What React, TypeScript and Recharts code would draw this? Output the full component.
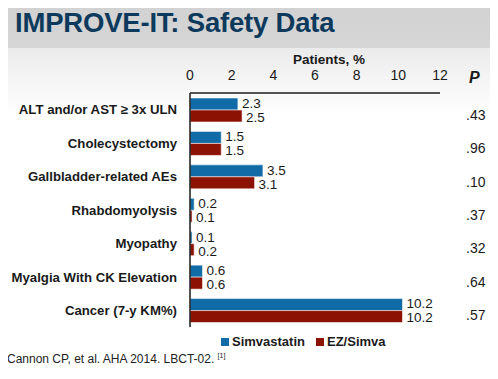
import React from "react";
import { BarChart, Bar, XAxis, YAxis, LabelList } from "recharts";

const categories = [
  "ALT and/or AST ≥ 3x ULN",
  "Cholecystectomy",
  "Gallbladder-related AEs",
  "Rhabdomyolysis",
  "Myopathy",
  "Myalgia With CK Elevation",
  "Cancer (7-y KM%)",
];
const simvastatin = [2.3, 1.5, 3.5, 0.2, 0.1, 0.6, 10.2];
const ezSimva = [2.5, 1.5, 3.1, 0.1, 0.2, 0.6, 10.2];
const pValues = [".43", ".96", ".10", ".37", ".32", ".64", ".57"];
const xTicks = [0, 2, 4, 6, 8, 10, 12];

const BLUE = "#106ba6";
const RED = "#8c1204";
const FONT = "'Liberation Sans', Arial, sans-serif";

const series = [
  { key: "simva", name: "Simvastatin", color: BLUE, dy: -1 },
  { key: "ez", name: "EZ/Simva", color: RED, dy: 1 },
];

const data = categories.map((name, i) => ({
  name,
  simva: simvastatin[i],
  ez: ezSimva[i],
  p: pValues[i],
}));

export default function App() {
  return (
    <div
      style={{
        position: "relative",
        width: 498,
        height: 379,
        margin: -8,
        overflow: "hidden",
        fontFamily: FONT,
        background:
          "linear-gradient(#d1d1d1 0px, #d6d6d6 48px, #ebebeb 48px, #ffffff 115px, #ffffff 373px, #e4e4e4 374px)",
      }}
    >
      <div
        style={{
          position: "absolute",
          left: 15,
          top: 7,
          fontSize: 27.5,
          fontWeight: 700,
          color: "#0d3a5c",
          letterSpacing: -0.2,
        }}
      >
        IMPROVE-IT: Safety Data
      </div>
      <div
        style={{
          position: "absolute",
          left: 293,
          top: 52,
          fontSize: 13.5,
          fontWeight: 700,
          color: "#1a1a1a",
        }}
      >
        Patients, %
      </div>
      <div
        style={{
          position: "absolute",
          left: 469,
          top: 69,
          fontSize: 16,
          fontWeight: 700,
          fontStyle: "italic",
          color: "#1a1a1a",
        }}
      >
        P
      </div>

      <div style={{ position: "absolute", left: 0, top: 0 }}>
        <BarChart
          width={498}
          height={379}
          data={data}
          layout="vertical"
          margin={{ top: 63, right: 0, left: 0, bottom: 52 }}
          barGap={0}
          barSize={12}
        >
          <XAxis
            type="number"
            orientation="top"
            domain={[0, 12]}
            ticks={xTicks}
            height={30}
            tickLine={false}
            tickSize={0}
            tickMargin={13}
            axisLine={{ stroke: "#1a1a1a", strokeWidth: 1.5 }}
            tick={{ fontSize: 14, fill: "#1a1a1a", fontFamily: FONT }}
            interval={0}
          />
          <YAxis
            yAxisId="left"
            type="category"
            dataKey="name"
            width={190}
            tickLine={false}
            tickSize={0}
            tickMargin={13}
            axisLine={{ stroke: "#1a1a1a", strokeWidth: 1.5 }}
            tick={{ fontSize: 13.2, fontWeight: 700, fill: "#1a1a1a", fontFamily: FONT }}
            interval={0}
          />
          <YAxis
            yAxisId="p"
            orientation="right"
            type="category"
            dataKey="name"
            width={58}
            tickLine={false}
            tickSize={0}
            tickMargin={26}
            axisLine={false}
            tickFormatter={(_v: string, i: number) => pValues[i]}
            tick={{ fontSize: 14, fill: "#1a1a1a", fontFamily: FONT, dy: 5 }}
            interval={0}
          />
          {series.map((s) => (
            <Bar
              key={s.key}
              yAxisId="left"
              dataKey={s.key}
              name={s.name}
              fill={s.color}
              stroke="rgba(255,255,255,0.55)"
              strokeWidth={1}
              isAnimationActive={false}
            >
              <LabelList
                dataKey={s.key}
                position="right"
                offset={4}
                formatter={(v: number) => v.toFixed(1)}
                style={{ fontSize: 13.5, fill: "#1a1a1a", fontFamily: FONT }}
                dy={s.dy}
              />
            </Bar>
          ))}
        </BarChart>
      </div>

      <div
        style={{
          position: "absolute",
          left: 221,
          top: 334,
          display: "flex",
          gap: 11,
          fontWeight: 700,
          fontSize: 13,
          color: "#1a1a1a",
        }}
      >
        {series.map((s) => (
          <span key={s.key} style={{ display: "flex", alignItems: "center", gap: 3 }}>
            <span style={{ width: 8, height: 8, background: s.color, display: "inline-block" }} />
            {s.name}
          </span>
        ))}
      </div>

      <div
        style={{
          position: "absolute",
          left: 7,
          top: 352,
          fontSize: 12,
          color: "#222",
        }}
      >
        Cannon CP, et al. AHA 2014. LBCT-02.{" "}
        <sup style={{ fontSize: 7 }}>[1]</sup>
      </div>
    </div>
  );
}
